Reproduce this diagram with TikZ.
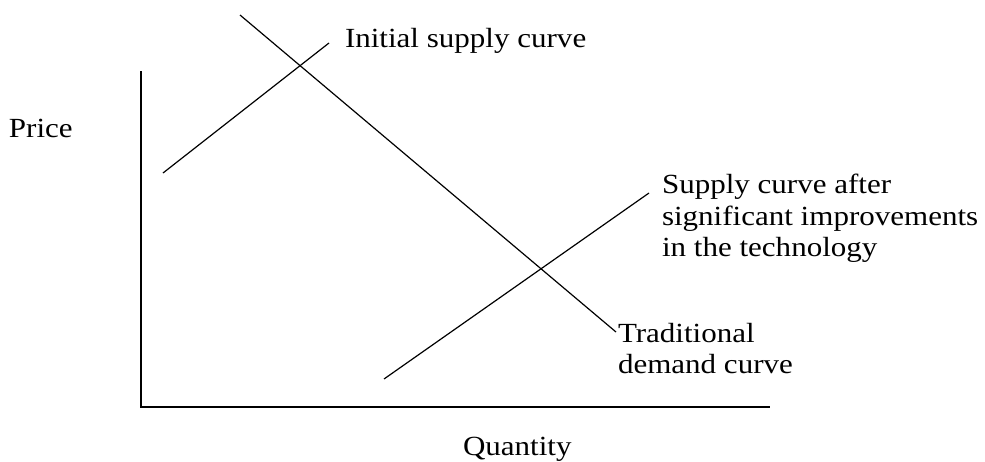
\documentclass[tikz,border=0pt]{standalone}
\usepackage{fontspec}
\setmainfont{Liberation Serif}[FakeStretch=1.12]
\begin{document}
\begin{tikzpicture}[x=1pt,y=-1pt,
  curve/.style={line width=1.2pt, black},
  axisline/.style={line width=1.3pt, black},
  lbl/.style={inner sep=0pt, outer sep=0pt, align=left, font=\fontsize{27.7}{31.5}\selectfont}]
  \useasboundingbox (0,0) rectangle (985,461);

  % axes
  \coordinate (ytop) at (141,71);
  \coordinate (orig) at (141,407);
  \coordinate (xend) at (770,407);
  \draw[axisline] (ytop) -- (orig) -- (xend);

  % curves
  \coordinate (s1a) at (163,173);
  \coordinate (s1b) at (329,43);
  \coordinate (da) at (240,15);
  \coordinate (db) at (616,332);
  \coordinate (s2a) at (384,379);
  \coordinate (s2b) at (649,193);
  \draw[curve] (s1a) -- (s1b);
  \draw[curve] (da) -- (db);
  \draw[curve] (s2a) -- (s2b);

  % labels
  \node[lbl, anchor=base west] (price) at (9,137) {Price};
  \node[lbl, anchor=base west] (qty) at (463,455) {Quantity};
  \node[lbl, anchor=base west] (init) at (345,47) {Initial supply curve};
  \node[lbl, anchor=north west] (after) at (662,174) {Supply curve after\\significant improvements\\in the technology};
  \node[lbl, anchor=north west] (trad) at (618,323) {Traditional\\demand curve};
\end{tikzpicture}
\end{document}
